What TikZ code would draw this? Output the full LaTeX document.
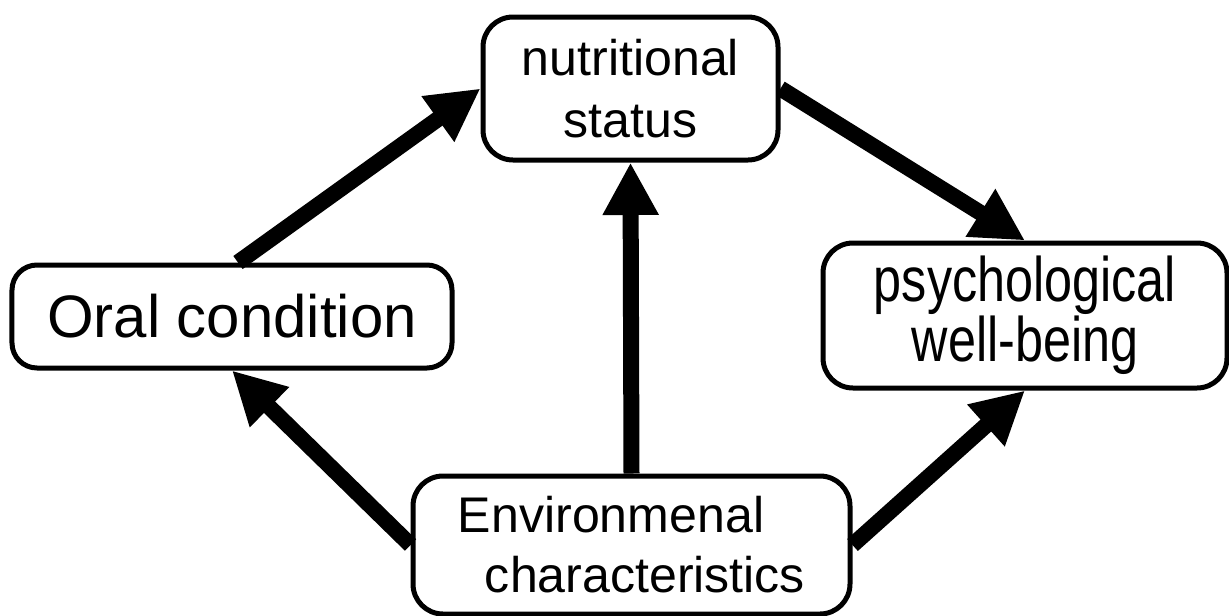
\documentclass[tikz,border=0pt]{standalone}
\usepackage{fontspec}
\setmainfont{Liberation Sans}
\newfontfamily\tallfont[FakeStretch=0.8]{Liberation Sans}
\usetikzlibrary{arrows.meta,positioning}

\begin{document}
\begin{tikzpicture}[
        factor/.style={draw,line width=0.1cm,rounded corners=0.6cm,inner sep=0pt,align=center,
          font=\fontsize{28.5}{35.3}\selectfont},
        link/.style={line width=0.32cm,-{Triangle[length=1.05cm,width=1.05cm]}}]
        \useasboundingbox (0,0) rectangle (24.58,-12.32);
        \node[factor,minimum width=5.9cm,minimum height=2.86cm] (nut) at (12.61,-1.77) {nutritional\\status};
        \node[factor,minimum width=8.8cm,minimum height=2.06cm,rounded corners=0.5cm,
          font=\fontsize{34.1}{40}\selectfont] (oral) at (4.64,-6.33) {Oral condition};
        \node[factor,minimum width=8.08cm,minimum height=2.9cm,
          font=\tallfont\fontsize{35.8}{29.6}\selectfont] (psy) at (20.5,-6.31) {psychological\\well-being};
        \node[factor,minimum width=8.74cm,minimum height=2.76cm,align=left,
          font=\fontsize{28.5}{34.1}\selectfont] (env) at (12.63,-10.9) {Environmenal\\\hspace*{0.54cm}characteristics};
        \draw[link] ([xshift=0.12cm]oral.north)--(nut.west);
        \draw[link] (env.north)--(nut.south);
        \draw[link] (nut.east)--(psy.north);
        \draw[link] (env.west)--(oral.south);
        \draw[link] (env.east)--(psy.south);
      \end{tikzpicture}
\end{document}
